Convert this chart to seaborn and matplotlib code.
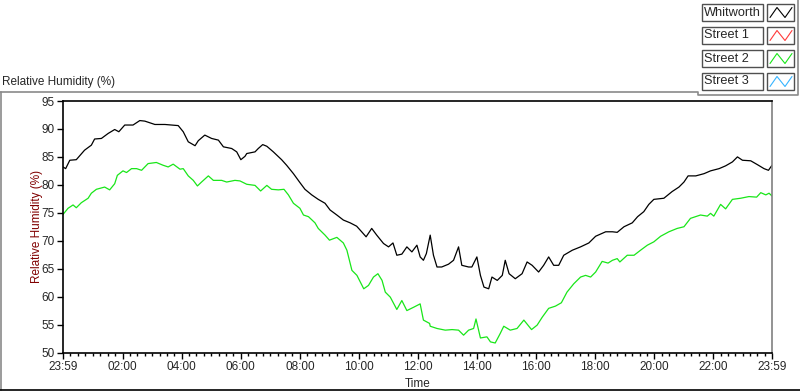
import numpy as np
import pandas as pd
import matplotlib
matplotlib.use("Agg")
import matplotlib.pyplot as plt
import seaborn as sns
from matplotlib.lines import Line2D
from matplotlib.patches import Rectangle

# Hours elapsed since 23:59 (start of the record) and readings (%)
whit_hours = [0.0, 0.09, 0.23, 0.45, 0.73, 0.96, 1.07, 1.3, 1.53, 1.75, 1.89, 2.09, 2.37,
              2.6, 2.77, 3.11, 3.45, 3.9, 4.07, 4.24, 4.47, 4.58, 4.8, 5.03, 5.26, 5.43,
              5.71, 5.88, 6.02, 6.16, 6.22, 6.5, 6.61, 6.76, 6.9, 7.12, 7.4, 7.57, 7.8,
              8.02, 8.19, 8.42, 8.64, 8.87, 9.04, 9.27, 9.49, 9.72, 9.94, 10.11, 10.26,
              10.45, 10.62, 10.85, 11.02, 11.17, 11.3, 11.47, 11.64, 11.81, 11.98, 12.09,
              12.2, 12.3, 12.43, 12.54, 12.66, 12.82, 13.05, 13.22, 13.39, 13.5, 13.73,
              13.84, 14.01, 14.13, 14.25, 14.41, 14.52, 14.7, 14.87, 14.97, 15.1, 15.31,
              15.54, 15.71, 15.88, 16.1, 16.27, 16.44, 16.61, 16.78, 16.95, 17.24, 17.52,
              17.8, 18.03, 18.37, 18.6, 18.76, 18.99, 19.27, 19.45, 19.66, 19.83, 20.0,
              20.34, 20.62, 20.85, 21.02, 21.16, 21.42, 21.7, 21.92, 22.21, 22.43, 22.66,
              22.83, 23.0, 23.28, 23.51, 23.73, 23.88, 24.0]
whit_rh = [83.2, 82.9, 84.4, 84.5, 86.2, 87.1, 88.2, 88.3, 89.2, 89.9, 89.5, 90.7, 90.7,
           91.5, 91.4, 90.8, 90.8, 90.6, 89.5, 87.7, 87.0, 87.9, 88.9, 88.3, 88.0, 86.8,
           86.5, 85.9, 84.5, 85.1, 85.6, 85.9, 86.5, 87.2, 86.9, 85.9, 84.5, 83.5, 82.0,
           80.4, 79.2, 78.2, 77.4, 76.7, 75.5, 74.6, 73.7, 73.2, 72.6, 71.6, 70.7,
           72.2, 71.0, 69.5, 68.9, 69.6, 67.4, 67.6, 68.9, 68.0, 69.2, 67.1,
           66.5, 67.7, 71.0, 67.4, 65.3, 65.3, 65.8, 66.5, 68.9, 65.6, 65.3,
           65.3, 67.1, 63.8, 61.7, 61.4, 63.5, 62.9, 63.8, 66.5, 64.1, 63.2,
           64.1, 66.2, 65.6, 64.4, 65.6, 67.1, 65.6, 65.6, 67.4, 68.3, 68.9,
           69.6, 70.8, 71.6, 71.6, 71.5, 72.5, 73.2, 74.3, 75.2, 76.5, 77.4,
           77.6, 78.8, 79.6, 80.5, 81.6, 81.6, 82.0, 82.5, 82.9, 83.4, 84.1,
           85.0, 84.4, 84.3, 83.6, 82.9, 82.6, 83.5]

st2_hours = [0.0, 0.17, 0.34, 0.45, 0.62, 0.85, 0.96, 1.13, 1.41, 1.58, 1.75, 1.84, 2.03,
             2.15, 2.32, 2.49, 2.66, 2.88, 3.16, 3.39, 3.56, 3.73, 3.96, 4.07, 4.24, 4.41,
             4.55, 4.69, 4.92, 5.09, 5.37, 5.54, 5.82, 5.99, 6.22, 6.5, 6.69, 6.9, 7.06,
             7.29, 7.48, 7.63, 7.8, 8.02, 8.14, 8.31, 8.53, 8.64, 8.87, 9.02, 9.27, 9.49,
             9.61, 9.78, 9.95, 10.18, 10.34, 10.51, 10.66, 10.8, 10.91, 11.08, 11.3, 11.47,
             11.64, 11.87, 12.09, 12.2, 12.41, 12.43, 12.66, 12.94, 13.17, 13.39, 13.56,
             13.73, 13.9, 13.98, 14.13, 14.35, 14.47, 14.63, 14.8, 14.92, 15.14, 15.37,
             15.6, 15.86, 16.05, 16.22, 16.44, 16.67, 16.87, 17.06, 17.29, 17.52, 17.69,
             17.86, 18.03, 18.25, 18.45, 18.6, 18.76, 18.85, 19.1, 19.33, 19.55, 19.78,
             20.0, 20.23, 20.51, 20.79, 21.02, 21.24, 21.58, 21.81, 21.92, 22.03, 22.26,
             22.43, 22.66, 22.94, 23.22, 23.48, 23.62, 23.79, 23.9, 24.0]
st2_rh = [74.7, 75.8, 76.4, 75.9, 76.8, 77.6, 78.5, 79.2, 79.6, 79.1, 80.2, 81.7, 82.5,
          82.2, 82.9, 82.9, 82.6, 83.8, 84.0, 83.5, 83.2, 83.7, 82.8, 82.9, 81.6, 80.8,
          79.8, 80.5, 81.6, 80.8, 80.8, 80.5, 80.8, 80.7, 80.1, 79.9, 78.9, 79.9, 79.2,
          79.1, 79.2, 78.2, 76.7, 75.8, 74.6, 74.3, 73.2, 72.2, 71.0, 70.1, 70.6, 69.6,
          68.3, 64.7, 63.8, 61.4, 62.0, 63.5, 64.1, 62.9, 60.8, 59.9, 57.7, 59.3,
          57.5, 58.1, 58.7, 55.8, 55.2, 54.7, 54.3, 54.0, 54.1, 54.0, 53.1,
          54.0, 54.3, 56.0, 52.6, 52.8, 51.9, 51.7, 53.4, 54.7, 54.0, 54.3,
          55.8, 54.1, 54.9, 56.3, 57.9, 58.3, 58.9, 60.8, 62.3, 63.5, 63.8,
          63.5, 64.4, 66.3, 66.0, 66.5, 66.8, 66.2, 67.4, 67.4, 68.3, 69.2,
          69.8, 70.8, 71.6, 72.2, 72.5, 74.0, 74.6, 74.4, 74.9, 74.4, 76.5,
          75.7, 77.4, 77.6, 77.9, 77.8, 78.6, 78.2, 78.5, 78.0]

tick_labels = ["23:59", "02:00", "04:00", "06:00", "08:00", "10:00", "12:00",
               "14:00", "16:00", "18:00", "20:00", "22:00", "23:59"]
legend_names = ["Whitworth", "Street 1", "Street 2", "Street 3"]
legend_colors = ["black", "#ff3a3a", "#19e619", "#36b4ff"]

W, H = 800, 392

def fx(px):
    return px / W

def fy(py):
    return 1 - py / H

sns.set_style("white")
plt.rcParams['font.family'] = ['Liberation Sans', 'DejaVu Sans']

fig = plt.figure(figsize=(8, 3.92), dpi=100)
ax = fig.add_axes([fx(63), fy(352.5), fx(772) - fx(63), fy(101) - fy(352.5)])

df = pd.concat([
    pd.DataFrame({"hours": whit_hours, "rh": whit_rh, "site": "Whitworth"}),
    pd.DataFrame({"hours": st2_hours, "rh": st2_rh, "site": "Street 2"}),
])
sns.lineplot(data=df, x="hours", y="rh", hue="site",
             palette={"Whitworth": "black", "Street 2": "#19e619"},
             linewidth=0.9, legend=False, ax=ax, estimator=None, sort=False)

ax.set_xlim(0, 24)
ax.set_ylim(50, 95)
ax.set_yticks(np.arange(50, 96, 5))
major = [0] + [2 * k + 1 / 60 for k in range(1, 12)] + [24]
ax.set_xticks(major)
ax.set_xticklabels(tick_labels)
minor = []
for a, b in zip(major[:-1], major[1:]):
    minor += list(np.linspace(a, b, 9)[1:-1])
ax.set_xticks(minor, minor=True)

ax.tick_params(axis="both", which="major", direction="out", length=4, width=1,
               color="black", labelsize=8.5, pad=2, bottom=True, left=True)
ax.tick_params(axis="x", which="minor", direction="out", length=2.5, width=1,
               color="black", bottom=True)
for s in ["left", "bottom", "top"]:
    ax.spines[s].set_color("black")
    ax.spines[s].set_linewidth(1.2)
ax.spines["right"].set_color("#808080")
ax.spines["right"].set_linewidth(1.2)
ax.grid(False)

ax.set_xlabel("Time", fontsize=8.5, labelpad=4)
ax.set_ylabel("Relative Humidity (%)", fontsize=8.5, color="#800000", labelpad=-1)

# panel chrome
fig.text(fx(2), fy(82), "Relative Humidity (%)", fontsize=8.5, va="center", ha="left")
gray = "#8a8a8a"
for pts, col in [([(0, 92), (698, 92), (698, 95), (798, 95), (798, 0)], gray),
                 ([(1, 92), (1, 390)], gray),
                 ([(0, 390), (800, 390)], "black")]:
    xs = [fx(p[0]) for p in pts]
    ys = [fy(p[1]) for p in pts]
    fig.add_artist(Line2D(xs, ys, color=col, lw=1.2, transform=fig.transFigure))

# legend boxes
for i, (name, col) in enumerate(zip(legend_names, legend_colors)):
    top = 4 + i * 23
    fig.add_artist(Rectangle((fx(702), fy(top + 16.5)), fx(61), fy(0) - fy(16.5),
                             fill=False, ec="#505050", lw=1, transform=fig.transFigure))
    fig.text(fx(704), fy(top + 8.5), name, fontsize=9.2, va="center", ha="left")
    fig.add_artist(Rectangle((fx(767), fy(top + 16.5)), fx(27), fy(0) - fy(16.5),
                             fill=False, ec="#505050", lw=1, transform=fig.transFigure))
    zx = [770, 777, 785, 792]
    zy = [top + 13.5, top + 3.5, top + 13.5, top + 3.5]
    fig.add_artist(Line2D([fx(v) for v in zx], [fy(v) for v in zy], color=col,
                          lw=0.8, transform=fig.transFigure))

fig.savefig("out.png", dpi=100)
